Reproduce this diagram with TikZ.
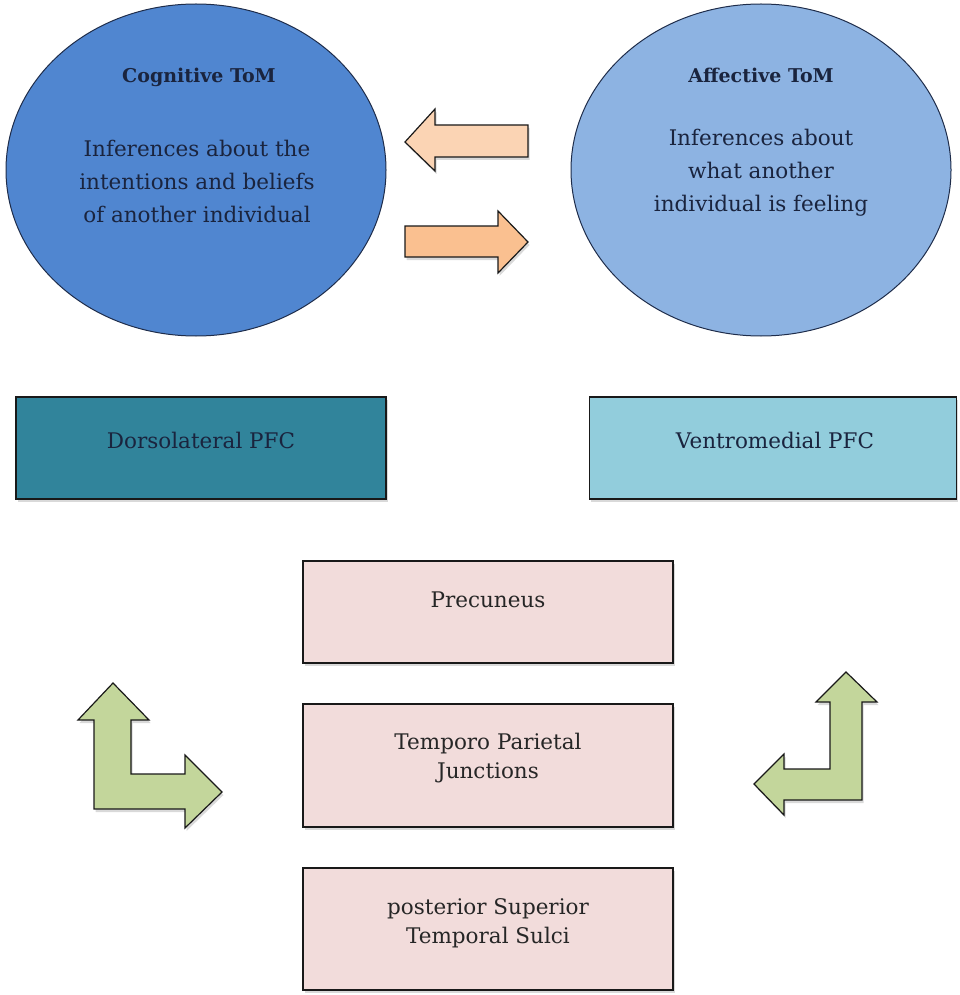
\documentclass[tikz,border=0pt]{standalone}
\usepackage{fontspec}
\setmainfont{DejaVu Serif}
\usetikzlibrary{shapes.geometric,positioning,shadows}
\definecolor{cogblue}{RGB}{80,134,208}
\definecolor{affblue}{RGB}{141,179,226}
\definecolor{navyline}{RGB}{30,44,74}
\definecolor{navytext}{RGB}{26,36,62}
\definecolor{dlteal}{RGB}{49,132,155}
\definecolor{vmteal}{RGB}{146,205,220}
\definecolor{pinkbox}{RGB}{242,220,219}
\definecolor{greenarr}{RGB}{195,214,155}
\definecolor{peachlight}{RGB}{251,212,180}
\definecolor{peachdark}{RGB}{250,192,144}
\tikzset{bubble/.style={ellipse,draw=navyline,line width=1pt,minimum width=380pt,minimum height=332pt,inner sep=0pt},
  region/.style={draw=black!90,line width=1.3pt,minimum width=370pt,inner sep=0pt,
    drop shadow={shadow xshift=1.5pt,shadow yshift=-3pt,opacity=.3}},
  blockarr/.style={draw=black!90,line width=1.2pt,line join=miter,
    drop shadow={shadow xshift=1.5pt,shadow yshift=-3pt,opacity=.3}}}

\begin{document}
\begin{tikzpicture}[x=1pt,y=-1pt,
  head/.style={font=\fontsize{19}{22}\selectfont\bfseries,text=navytext},
  body/.style={font=\fontsize{21.5}{33}\selectfont,text=navytext,align=center},
  lbl/.style={font=\fontsize{21.5}{29}\selectfont,text=black!85,align=center}]
\useasboundingbox (0,0) rectangle (959,995);
% theory of mind
\node[bubble,fill=cogblue] (cog) at (196,170){};
\node[bubble,fill=affblue] (aff) at (761,170){};
\node[head] (cogt) at (199,77){Cognitive ToM};
\node[head] (afft) at (761,75){Affective ToM};
\node[body] (cogb) at (197,181){Inferences about the\\intentions and beliefs\\of another individual};
\node[body] (affb) at (761,173){Inferences about\\what another\\individual is feeling};
\draw[blockarr,fill=peachlight] (405,142)--(435,109)--(435,125)--(528,125)--(528,157)--(435,157)--(435,171)--cycle;
\draw[blockarr,fill=peachdark] (528,242)--(498,211)--(498,226)--(405,226)--(405,257)--(498,257)--(498,273)--cycle;
% prefrontal
\node[region,fill=dlteal,minimum height=102pt] (dlpfc) at (201,448){};
\node[region,fill=vmteal,minimum width=367pt,minimum height=102pt] (vmpfc) at (773,448){};
\node[lbl,text=navytext] (dlt) at (201,440){Dorsolateral PFC};
\node[lbl,text=navytext] (vmt) at (775,440){Ventromedial PFC};
% shared network
\node[region,fill=pinkbox,minimum height=102pt] (prec) at (488,612){};
\node[region,fill=pinkbox,minimum height=123pt] (tpj) at (488,765.5){};
\node[region,fill=pinkbox,minimum height=122pt] (psts) at (488,929){};
\node[lbl] (prect) at (488,600){Precuneus};
\node[lbl] (tpjt) at (488,758){Temporo Parietal\\Junctions};
\node[lbl] (pstst) at (488,923){posterior Superior\\Temporal Sulci};
\draw[blockarr,fill=greenarr] (113,683)--(149,720)--(131,720)--(131,774)--(185,774)--(185,755)--(222,792)
  --(185,828)--(185,809)--(94,809)--(94,720)--(78,720)--cycle;
\draw[blockarr,fill=greenarr] (846,672)--(877,702)--(862,702)--(862,800)--(784,800)--(784,815)--(754,784)
  --(784,754)--(784,769)--(830,769)--(830,702)--(816,702)--cycle;
\end{tikzpicture}
\end{document}
